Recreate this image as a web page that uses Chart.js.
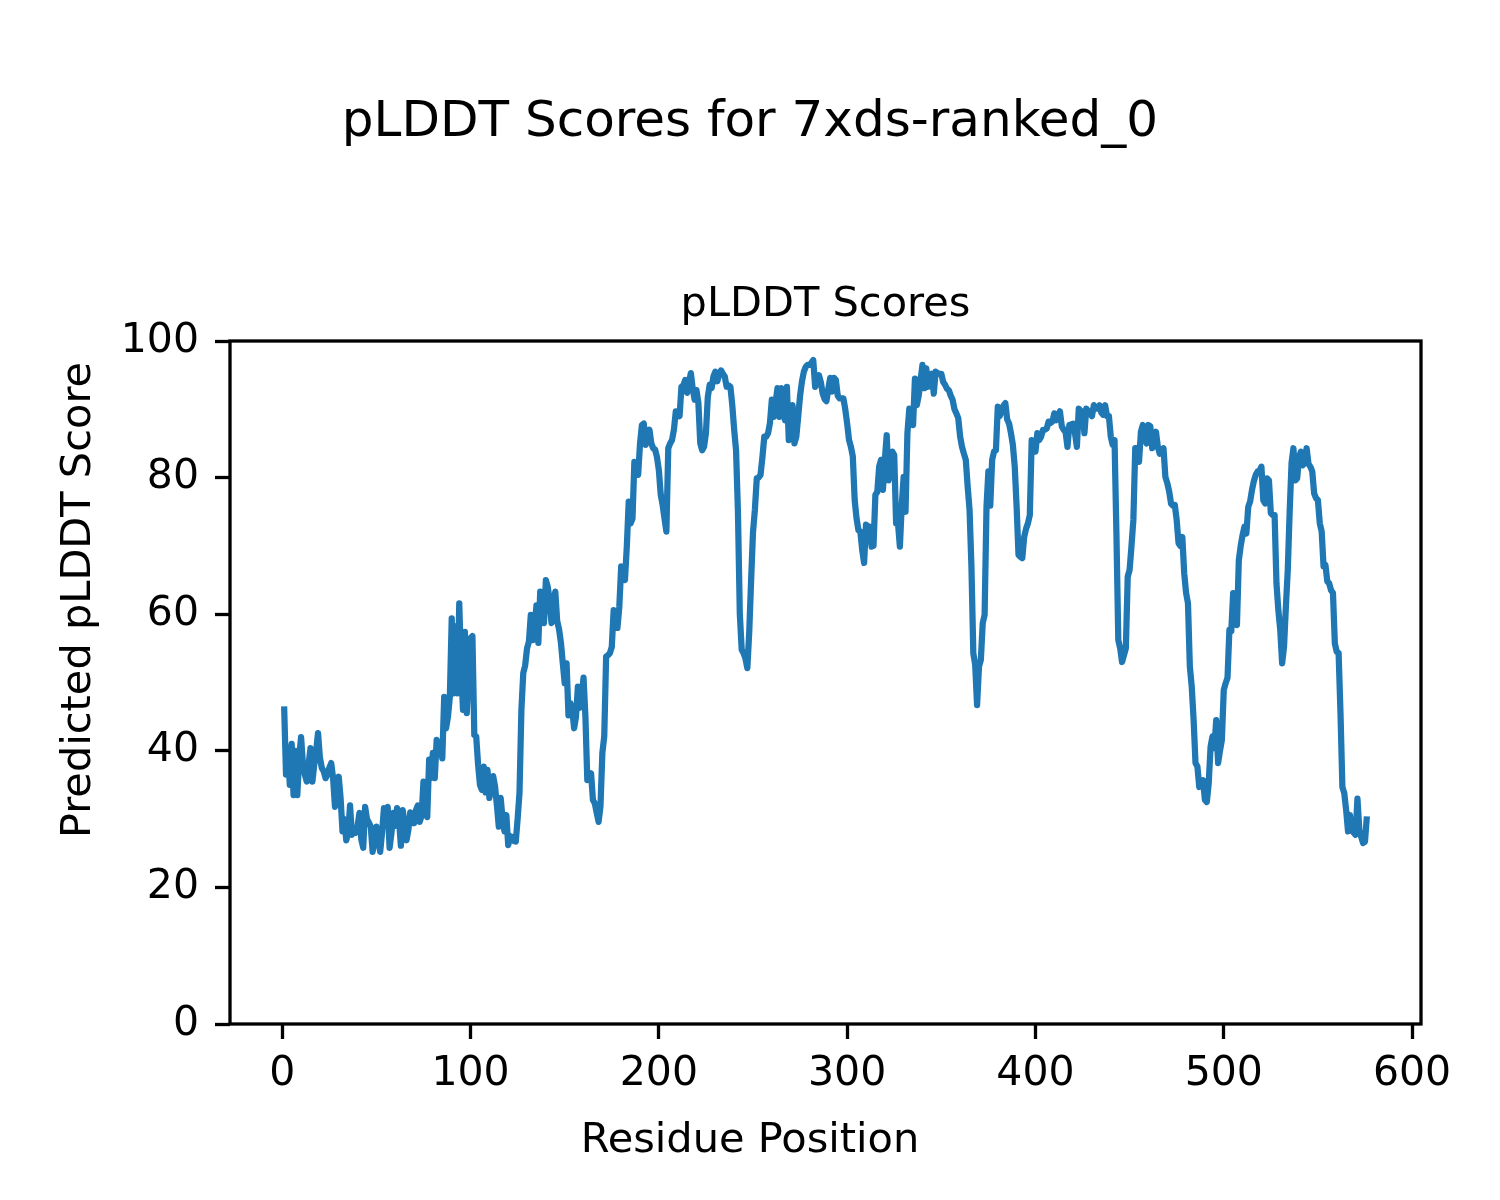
<!DOCTYPE html>
<html>
<head>
<meta charset="utf-8">
<script src="https://cdn.jsdelivr.net/npm/chart.js@4.4.1/dist/chart.umd.min.js"></script>
<style>
  body { margin: 0; background: #fff; }
  canvas { display: block; }
</style>
</head>
<body>
<canvas id="chart" width="1500" height="1200"></canvas>
<script>
// pLDDT per residue (residue 1..576)
const scores = [
  46.5, 36.5, 40.5, 35, 41, 33.5, 40, 33.5, 39, 42,
  38, 36.5, 35.5, 38, 40.4, 35.5, 38, 40, 42.6, 39,
  37.5, 37, 36, 36.5, 37.5, 38.2, 36, 31.8, 33, 36.2,
  33, 28.2, 30, 26.9, 28, 32, 27.7, 28.5, 28, 29,
  30.9, 27, 25.8, 31.8, 30, 29.5, 28.9, 25.2, 27, 28.9,
  27, 25.2, 28, 31.6, 30, 31.8, 25.8, 28, 30.9, 29,
  31.6, 30, 26.1, 31.3, 29, 26.9, 28.5, 31, 30, 29.4,
  31.3, 32, 29.6, 30.5, 35.5, 31, 30.3, 38.7, 36, 39.7,
  36, 41.6, 40, 41, 38.9, 47.9, 43.3, 45, 47.9, 59.4,
  48.4, 58.2, 48.4, 61.6, 52, 46, 57.4, 45.5, 52, 56.5,
  56.8, 42.3, 42.1, 38, 35, 34.3, 37.7, 33.9, 37.2, 33.1,
  35, 36.3, 34.8, 32, 28.9, 33.1, 30, 28.2, 30.6, 26.2,
  27.5, 27.4, 26.8, 26.7, 30, 33.9, 46, 51.4, 52.5, 55,
  56, 59.9, 56.2, 58, 61.3, 55.8, 63.3, 60, 58.7, 65,
  64, 62, 58.7, 61.6, 63.3, 59, 57.8, 55.8, 52.8, 49.9,
  52.8, 45.2, 47, 46, 43.3, 45, 49.4, 46.3, 48, 50.7,
  45, 35.7, 36, 36.7, 32.8, 32.3, 30.9, 29.6, 31.9, 39.7,
  42.1, 53.8, 54, 54.3, 55.2, 60.6, 58, 58, 61.1, 67,
  66, 65, 70, 76.5, 73.3, 74, 82.3, 81, 80.4, 85,
  87.7, 87.9, 84.8, 86, 87, 85, 84.3, 84.1, 83, 81.1,
  77.5, 76, 74, 72.1, 84.3, 85, 85.5, 87, 89.7, 89.5,
  89, 93.3, 93.5, 94.3, 92.4, 94, 95.3, 93, 91.4, 92.8,
  90.9, 85, 84, 84.5, 86.5, 91.8, 93.6, 93.1, 94.8, 95.5,
  94.1, 95, 95.7, 95.2, 94.8, 93.3, 93.5, 93.3, 90.6, 87,
  84, 75, 60, 54.8, 54.3, 53.5, 52.1, 57.4, 65, 72,
  75.3, 79.9, 80, 80.4, 83, 86, 86, 86.5, 88, 91.4,
  88.9, 91, 93.1, 88.9, 93.1, 90, 88.4, 93.3, 85.5, 88,
  90.6, 85, 86, 88.9, 92, 94.1, 95.5, 96.2, 96.5, 96.5,
  96.8, 97.2, 93.3, 94, 95, 94, 92.3, 91.5, 91.2, 93,
  94.6, 92.6, 94.6, 94.3, 92, 91.6, 91.6, 91.6, 90, 87.9,
  85.5, 84.5, 83.1, 76.7, 74, 72.3, 72.1, 69.4, 67.5, 73.1,
  72.9, 72.8, 69.9, 70, 77.5, 77.9, 81.6, 82.6, 78.2, 82.6,
  86.2, 79.6, 82, 83.8, 83.3, 73.3, 73.3, 69.9, 76, 80.1,
  75, 86.5, 90.1, 88.5, 87.7, 94.5, 90.6, 92, 94.3, 96.5,
  93.1, 96, 93.3, 94.5, 95.2, 92.3, 95.5, 95.3, 95.2, 95.2,
  94, 93.6, 93, 92.8, 92, 91.4, 90, 89.4, 88.7, 86,
  84.5, 83.5, 82.6, 78.7, 75.3, 67, 54.3, 52.6, 46.7, 52.3,
  53.3, 58.7, 59.9, 75.7, 80.9, 75.9, 82.6, 83.8, 84, 90.4,
  89, 89.7, 90.5, 90.9, 88.5, 87.9, 86.5, 84.8, 81.6, 75.7,
  68.7, 68.4, 68.2, 71.3, 72.5, 73.3, 74.5, 85.5, 85.3, 83.8,
  86.5, 85.5, 86, 87, 87, 87.2, 88.2, 88, 88.2, 89.4,
  88.4, 89, 89.7, 87.5, 87, 86.7, 84.5, 87.7, 87.8, 87.9,
  86.5, 84.5, 90.1, 89.7, 89.7, 86.5, 90.1, 89.7, 89.5, 89,
  90.6, 90.1, 90.1, 90.6, 89.5, 89.2, 90.6, 89, 89, 86,
  84.8, 85.5, 71.8, 56.2, 55, 53, 54, 55, 65.5, 66.5,
  70, 73.8, 84.3, 84.3, 82.3, 86.7, 87.7, 86, 85, 87.7,
  87.5, 84.3, 86, 86.7, 84.5, 83.5, 84, 84.3, 80.1, 79.2,
  78, 76.2, 75.9, 76, 73.8, 70.4, 70, 71.3, 66, 63.1,
  61.6, 52.3, 49.4, 44.5, 38.2, 37.7, 34.7, 35, 35.7, 32.8,
  32.5, 35.2, 40.6, 42.1, 40.4, 44.5, 38.2, 40, 41.6, 48.9,
  49.9, 50.7, 57.7, 57.5, 63.1, 60, 58.4, 67.9, 70, 71.6,
  72.8, 71.8, 75.7, 76.5, 78.2, 79.5, 80.4, 80.9, 81, 81.6,
  76.7, 76.2, 79.9, 79.6, 74.8, 74.5, 74.5, 64.5, 60.6, 57.7,
  52.8, 55.2, 61.1, 66.5, 75, 82.1, 84.3, 79.6, 79.9, 83.1,
  83.8, 81.8, 82.3, 84.3, 82, 81.6, 80.9, 77.7, 77, 76.7,
  73.3, 72.1, 67, 67.2, 64.8, 64.5, 63.5, 63.1, 55.7, 54.5,
  54.3, 45.5, 34.7, 33.8, 31.3, 28.2, 30.6, 28.4, 28, 27.7,
  33, 28.4, 27.4, 26.5, 26.7, 30.4
]
const residues = scores.map((s, i) => i + 1)

const xTicks = [0, 100, 200, 300, 400, 500, 600]
const yTicks = [0, 20, 40, 60, 80, 100]

const figTitle = "pLDDT Scores for 7xds-ranked_0"
const axTitle = "pLDDT Scores"
const xLabel = "Residue Position"
const yLabel = "Predicted pLDDT Score"

const FONT = "'DejaVu Sans', sans-serif"

// frame + titles drawn by hand so they sit where matplotlib put them
const decor = {
    id: 'decor',
    afterDraw(chart) {
        const { ctx, chartArea: a } = chart
        ctx.save()
        ctx.strokeStyle = '#000'
        ctx.lineWidth = 3.3
        ctx.strokeRect(a.left, a.top, a.right - a.left, a.bottom - a.top)

        ctx.fillStyle = '#000'
        ctx.textAlign = 'center'
        ctx.textBaseline = 'alphabetic'
        ctx.font = '50px ' + FONT
        ctx.fillText(figTitle, 750, 136)

        ctx.font = '41.5px ' + FONT
        ctx.fillText(axTitle, (a.left + a.right) / 2, 316)
        ctx.fillText(xLabel, 750, 1152)

        ctx.translate(90, 600)
        ctx.rotate(-Math.PI / 2)
        ctx.fillText(yLabel, 0, 0)
        ctx.restore()
    }
}

const ctx = document.getElementById('chart').getContext('2d')
const myChart = new Chart(ctx, {
    type: 'line',
    data: {
        datasets: [{
            data: residues.map((r, i) => ({ x: r, y: scores[i] })),
            borderColor: '#1f77b4',
            borderWidth: 6.25,
            pointRadius: 0,
            tension: 0,
            borderJoinStyle: 'round',
            fill: false
        }]
    },
    options: {
        responsive: false,
        animation: false,
        devicePixelRatio: 1,
        layout: { padding: { left: 80, right: 79, top: 341, bottom: 76 } },
        plugins: {
            legend: { display: false },
            title: { display: false },
            tooltip: { enabled: false }
        },
        scales: {
            x: {
                type: 'linear',
                min: -27.75,
                max: 604.75,
                afterBuildTicks: s => { s.ticks = xTicks.map(v => ({ value: v })) },
                afterFit: s => { s.height = 100 },
                grid: { drawOnChartArea: false, tickLength: 15, tickWidth: 3.3, tickColor: '#000' },
                border: { display: false },
                ticks: { color: '#000', font: { family: FONT, size: 41 }, padding: 11, maxRotation: 0 }
            },
            y: {
                min: 0,
                max: 100,
                afterBuildTicks: s => { s.ticks = yTicks.map(v => ({ value: v })) },
                afterFit: s => { s.width = 150 },
                grid: { drawOnChartArea: false, tickLength: 15, tickWidth: 3.3, tickColor: '#000' },
                border: { display: false },
                ticks: { color: '#000', font: { family: FONT, size: 41 }, padding: 16 }
            }
        }
    },
    plugins: [decor]
})
</script>
</body>
</html>
